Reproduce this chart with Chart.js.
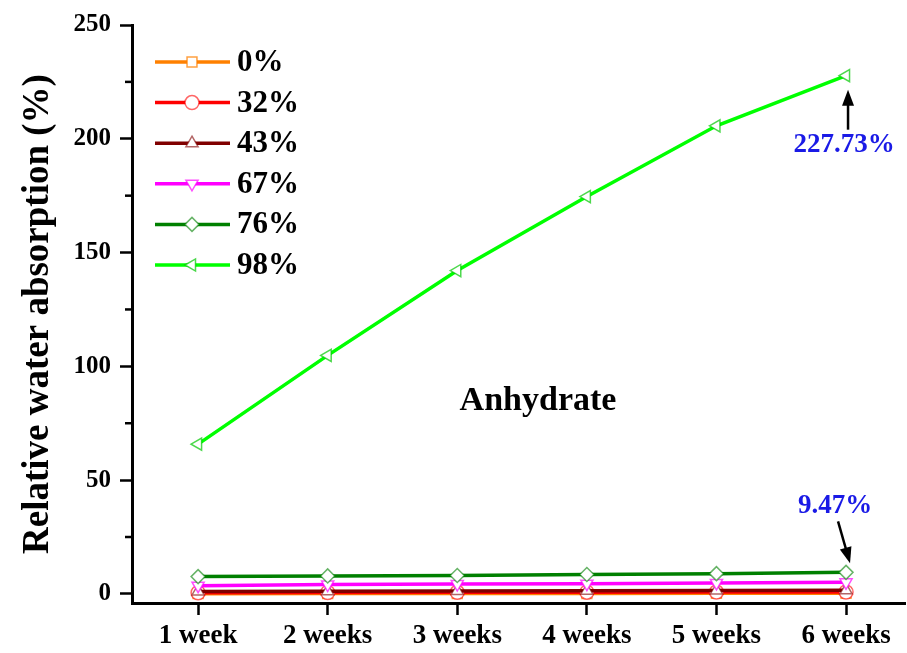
<!DOCTYPE html>
<html>
<head>
<meta charset="utf-8">
<script src="https://cdn.jsdelivr.net/npm/chart.js@4.4.1/dist/chart.umd.min.js"></script>
<style>
  body { margin: 0; background: #fff; }
  canvas { display: block; }
</style>
</head>
<body>
<canvas id="grafica" width="907" height="653"></canvas>
<script>
// Datos
const semanas = ['1 week', '2 weeks', '3 weeks', '4 weeks', '5 weeks', '6 weeks'];
const etiquetas = ['0%', '32%', '43%', '67%', '76%', '98%'];
const hr0  = [0.1, 0.15, 0.2, 0.2, 0.25, 0.3];
const hr32 = [0.5, 0.6, 0.7, 0.75, 0.8, 0.85];
const hr43 = [1.1, 1.2, 1.3, 1.4, 1.5, 1.6];
const hr67 = [3.6, 4.1, 4.3, 4.5, 4.8, 5.1];
const hr76 = [7.6, 7.9, 8.1, 8.5, 8.9, 9.47];
const hr98 = [65.8, 104.8, 142.1, 174.6, 205.7, 227.73];
const ticksY = [0, 50, 100, 150, 200, 250];
const ticksYmenores = [25, 75, 125, 175, 225];

const series = [hr0, hr32, hr43, hr67, hr76, hr98];
const colores = ['#ff8000', '#ff0000', '#800000', '#ff00ff', '#008000', '#00ff00'];
const bordesMarca = ['rgba(255,128,0,0.75)', 'rgba(255,0,0,0.6)', 'rgba(128,0,0,0.6)', 'rgba(255,0,255,0.7)', 'rgba(0,128,0,0.6)', 'rgba(0,200,0,0.7)'];
const estilos = ['rect', 'circle', 'triangle', 'triangle', 'rectRot', 'triangle'];
const giros = [0, 0, 0, 180, 0, 270];

const fuente = "'Liberation Serif', 'Times New Roman', serif";

const datasets = series.map((s, i) => ({
  label: etiquetas[i],
  data: s.map((v, j) => ({ x: j + 1, y: v })),
  borderColor: colores[i],
  borderWidth: 3.5,
  pointStyle: estilos[i],
  pointRotation: giros[i],
  pointRadius: 7,
  pointBorderWidth: 1.5,
  pointBorderColor: bordesMarca[i],
  pointBackgroundColor: '#fff',
  order: 6 - i
}));

// Leyenda dibujada a mano (línea + marcador + texto)
const leyenda = {
  id: 'leyenda',
  afterDatasetsDraw(chart) {
    const ctx = chart.ctx;
    ctx.save();
    datasets.forEach((d, i) => {
      const y = 62 + i * 40.6;
      ctx.strokeStyle = d.borderColor;
      ctx.lineWidth = 3.5;
      ctx.beginPath();
      ctx.moveTo(155, y);
      ctx.lineTo(230, y);
      ctx.stroke();
      ctx.fillStyle = '#fff';
      ctx.strokeStyle = d.pointBorderColor;
      ctx.lineWidth = 1.5;
      Chart.helpers.drawPoint(ctx, { pointStyle: d.pointStyle, radius: 7, rotation: d.pointRotation, borderWidth: 1.5 }, 192, y);
      ctx.fillStyle = '#000';
      ctx.font = 'bold 31px ' + fuente;
      ctx.textAlign = 'left';
      ctx.textBaseline = 'middle';
      ctx.fillText(d.label, 237, y + 1);
    });
    ctx.restore();
  }
};

// Marcas menores del eje Y, anotaciones y texto "Anhydrate"
const extras = {
  id: 'extras',
  afterDraw(chart) {
    const ctx = chart.ctx;
    const sx = chart.scales.x, sy = chart.scales.y;
    ctx.save();
    ctx.strokeStyle = '#000';
    ctx.lineWidth = 2.5;
    ticksYmenores.forEach(v => {
      const y = sy.getPixelForValue(v);
      ctx.beginPath();
      ctx.moveTo(sx.left - 7, y);
      ctx.lineTo(sx.left, y);
      ctx.stroke();
    });

    ctx.fillStyle = '#000';
    ctx.font = 'bold 34px ' + fuente;
    ctx.textAlign = 'center';
    ctx.textBaseline = 'middle';
    ctx.fillText('Anhydrate', 538, 401);

    const flecha = (x1, y1, x2, y2) => {
      const ang = Math.atan2(y2 - y1, x2 - x1);
      ctx.strokeStyle = '#000';
      ctx.lineWidth = 2.5;
      ctx.beginPath();
      ctx.moveTo(x1, y1);
      ctx.lineTo(x2 - 10 * Math.cos(ang), y2 - 10 * Math.sin(ang));
      ctx.stroke();
      ctx.beginPath();
      ctx.moveTo(x2, y2);
      ctx.lineTo(x2 - 16 * Math.cos(ang) + 6 * Math.sin(ang), y2 - 16 * Math.sin(ang) - 6 * Math.cos(ang));
      ctx.lineTo(x2 - 16 * Math.cos(ang) - 6 * Math.sin(ang), y2 - 16 * Math.sin(ang) + 6 * Math.cos(ang));
      ctx.closePath();
      ctx.fillStyle = '#000';
      ctx.fill();
    };

    const ult = series[0].length;
    const px = sx.getPixelForValue(ult);
    const yAlto = sy.getPixelForValue(hr98[ult - 1]);
    const yBajo = sy.getPixelForValue(hr76[ult - 1]);
    flecha(px + 2, yAlto + 54, px + 2, yAlto + 14);
    flecha(px - 8, yBajo - 51, px + 4, yBajo - 9);

    ctx.fillStyle = '#1a1ae6';
    ctx.font = 'bold 27px ' + fuente;
    ctx.textAlign = 'center';
    ctx.fillText(hr98[ult - 1].toFixed(2) + '%', px - 2, yAlto + 69);
    ctx.fillText(hr76[ult - 1].toFixed(2) + '%', px - 11, yBajo - 66);
    ctx.restore();
  }
};

const ctxGrafica = document.getElementById('grafica').getContext('2d');
new Chart(ctxGrafica, {
  type: 'line',
  data: { datasets: datasets },
  options: {
    responsive: false,
    animation: false,
    layout: { autoPadding: false, padding: { top: 25, right: 2, left: 0, bottom: 0 } },
    plugins: { legend: { display: false }, tooltip: { enabled: false } },
    scales: {
      x: {
        type: 'linear',
        min: 0.49,
        max: 6.455,
        afterBuildTicks: scale => { scale.ticks = semanas.map((s, i) => ({ value: i + 1 })); },
        afterFit: scale => { scale.height = 50; scale.paddingRight = 0; scale.paddingLeft = 0; },
        ticks: {
          callback: v => semanas[v - 1],
          color: '#000',
          font: { family: fuente, size: 27, weight: 'bold' },
          padding: 5,
          maxRotation: 0,
          autoSkip: false
        },
        grid: { drawOnChartArea: false, tickLength: 12, tickWidth: 2.5, tickColor: '#000' },
        border: { color: '#000', width: 3 }
      },
      y: {
        min: -4.0,
        max: 250,
        afterBuildTicks: scale => { scale.ticks = ticksY.map(v => ({ value: v })); },
        afterFit: scale => { scale.width = 132; },
        ticks: {
          color: '#000',
          font: { family: fuente, size: 25, weight: 'bold' },
          padding: 9
        },
        grid: { drawOnChartArea: false, tickLength: 12, tickWidth: 2.5, tickColor: '#000' },
        border: { color: '#000', width: 3 },
        title: {
          display: true,
          text: 'Relative water absorption (%)',
          color: '#000',
          font: { family: fuente, size: 37, weight: 'bold' },
          padding: { top: 16, bottom: 0 }
        }
      }
    }
  },
  plugins: [leyenda, extras]
});
</script>
</body>
</html>
